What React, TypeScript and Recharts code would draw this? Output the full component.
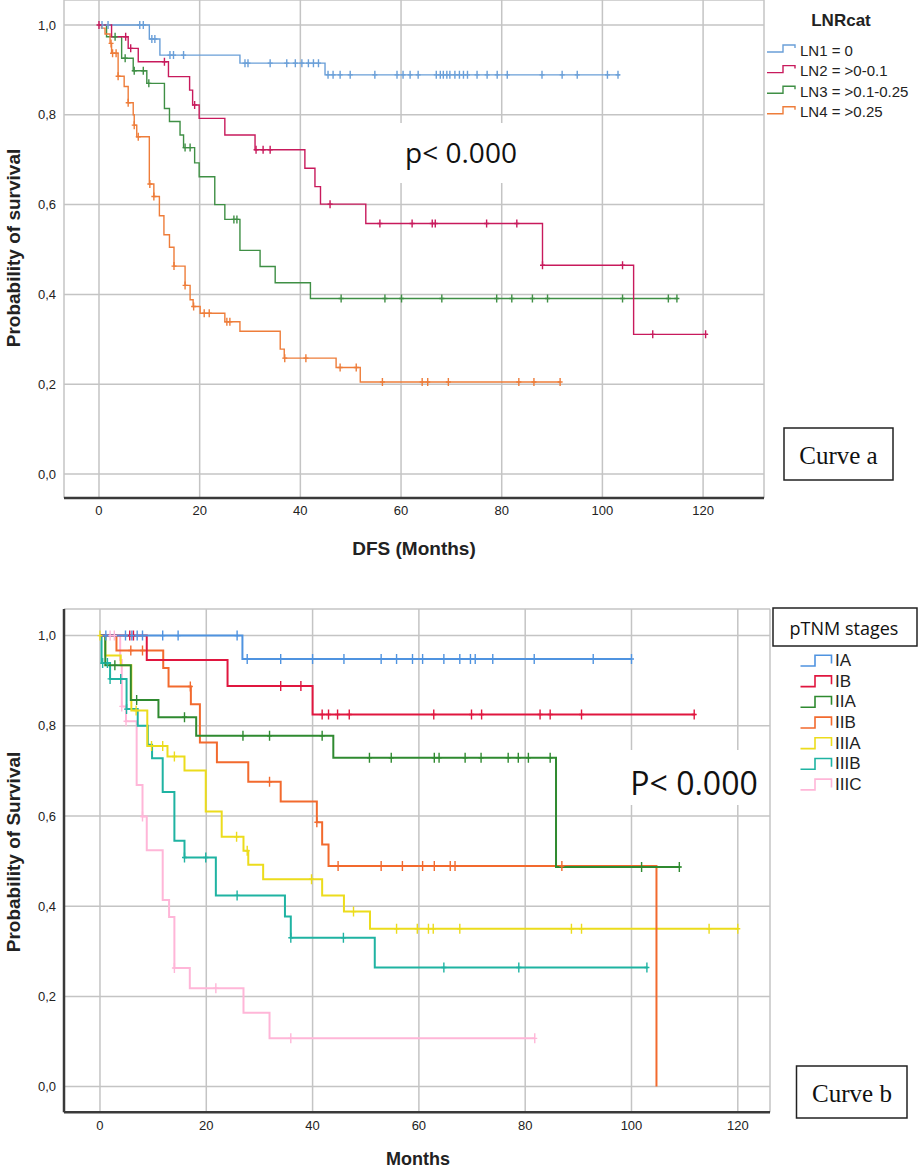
import React from "react";
import { ComposedChart, Line, Scatter, XAxis, YAxis, CartesianGrid } from "recharts";

type Pt = [number, number];

const MONTH_TICKS = [0, 20, 40, 60, 80, 100, 120];
const PROB_TICKS = [0, 0.2, 0.4, 0.6, 0.8, 1.0];

// ---------- Curve a : LNRcat ----------
const LN1_STEPS: Pt[] = [[0, 1], [10, 0.969], [12.1, 0.933], [28, 0.915], [44.9, 0.889], [103.5, 0.889]];
const LN1_CENS = [0.6, 1.8, 8.1, 8.8, 10.5, 11.1, 14.1, 14.8, 16.8, 29, 29.6, 34, 37.3, 39, 40.3, 41.6, 42.6, 43.6, 45.5, 46.5, 47.9, 49.9, 54.8, 59.2, 60.4, 61.8, 63.4, 67, 67.8, 68.4, 69.1, 69.7, 70.7, 71.6, 72.4, 73.2, 75.1, 77.1, 79.1, 81.1, 88, 92, 95, 101, 103.1];

const LN2_STEPS: Pt[] = [[0, 1], [2.5, 0.974], [5.8, 0.948], [7.8, 0.918], [13.8, 0.885], [18, 0.855], [18.6, 0.822], [19.9, 0.792], [25, 0.755], [31, 0.722], [40.9, 0.681], [42.9, 0.64], [44, 0.601], [53, 0.558], [88.1, 0.465], [106.2, 0.311], [121, 0.311]];
const LN2_CENS = [0, 5.3, 6.3, 13, 19, 31.2, 32.6, 34, 45.9, 55.8, 62.2, 66.2, 66.8, 77, 83, 88.1, 104, 110, 120.5];

const LN3_STEPS: Pt[] = [[0, 1], [1.5, 0.974], [4.5, 0.926], [6.8, 0.898], [9.5, 0.87], [13, 0.814], [14, 0.785], [16.1, 0.755], [16.8, 0.727], [19, 0.693], [19.9, 0.662], [23, 0.6], [25, 0.567], [28, 0.498], [32, 0.462], [35, 0.426], [42, 0.391], [115, 0.391]];
const LN3_CENS = [3.2, 5.2, 7, 8.8, 9.9, 17.1, 18.1, 26.8, 27.4, 48.1, 56.8, 60.1, 68.1, 79, 82, 86.1, 89.1, 104, 113.1, 114.8];

const LN4_STEPS: Pt[] = [[0, 1], [0.5, 0.993], [1.2, 0.98], [2.2, 0.959], [2.5, 0.937], [3.8, 0.886], [5, 0.863], [5.8, 0.827], [6.8, 0.8], [7, 0.777], [7.5, 0.751], [10, 0.646], [10.9, 0.618], [12, 0.575], [12.9, 0.533], [14, 0.505], [14.9, 0.463], [17.1, 0.42], [18.1, 0.388], [18.7, 0.373], [20.1, 0.358], [25, 0.339], [28, 0.318], [36, 0.278], [36.8, 0.258], [47.1, 0.237], [51.9, 0.205], [91.6, 0.205]];
const LN4_CENS = [2.4, 2.7, 3.4, 3.8, 5.8, 7.0, 7.8, 10.1, 10.9, 14.9, 17.1, 18.8, 20.9, 21.9, 25.4, 26, 36.9, 41.1, 47.9, 51.1, 56.3, 64.2, 65.3, 69.4, 83.4, 86.4, 91.6];

const TOP_NAMES = ["LN1 = 0", "LN2 = >0-0.1", "LN3 = >0.1-0.25", "LN4 = >0.25"];
const TOP_COLORS = ["#6a9fd8", "#c81a5c", "#3f8f45", "#ee7d3a"];

// ---------- Curve b : pTNM stages ----------
const IA_STEPS: Pt[] = [[0, 1], [26.8, 0.948], [100, 0.948]];
const IA_CENS = [1.1, 4.8, 6, 7, 8, 11.8, 14.7, 25.8, 27.7, 34, 40, 45.9, 52.9, 55.8, 58.8, 60.7, 64.7, 67.7, 69.7, 70.6, 73.9, 81.7, 92.8, 100];

const IB_STEPS: Pt[] = [[0, 1], [8.8, 0.946], [24, 0.888], [40, 0.825], [112, 0.825]];
const IB_CENS = [5.6, 6.3, 34, 37.8, 41.8, 43, 44.7, 46.9, 62.8, 69.9, 71.8, 82.8, 84.7, 90.6, 111.8];

const IIA_STEPS: Pt[] = [[0, 1], [1, 0.934], [5.8, 0.857], [11, 0.819], [18.1, 0.778], [43.9, 0.729], [85.8, 0.487], [109.2, 0.487]];
const IIA_CENS = [2.8, 6.9, 15.9, 26.9, 31.9, 41.8, 50.7, 54.8, 62.9, 63.8, 68.7, 71.7, 76.8, 78.7, 80.6, 84.7, 101.9, 109];

const IIB_STEPS: Pt[] = [[0, 1], [3.1, 0.967], [11.9, 0.928], [12.9, 0.887], [17.1, 0.848], [18.8, 0.763], [22, 0.719], [27.9, 0.676], [34, 0.632], [40.8, 0.586], [41.8, 0.537], [43, 0.489], [104.7, 0]];
const IIB_CENS = [5.8, 8, 17, 31.9, 40.8, 44.8, 52.9, 56.9, 60.7, 62.9, 65.9, 66.8, 86.9];

const IIIA_STEPS: Pt[] = [[0, 1], [1, 0.956], [3.9, 0.934], [5.9, 0.834], [8.9, 0.755], [12.7, 0.732], [15.9, 0.701], [19.9, 0.61], [22.9, 0.554], [27, 0.523], [27.9, 0.492], [30.7, 0.46], [41.8, 0.424], [45.9, 0.388], [50.8, 0.35], [120, 0.35]];
const IIIA_CENS = [0, 6.8, 9.7, 11.8, 14, 25.7, 27.7, 39.8, 47.7, 55.8, 59.7, 61.8, 62.7, 67.7, 88.7, 90.6, 114.6, 120];

const IIIB_STEPS: Pt[] = [[0, 1], [0.3, 0.939], [1.9, 0.904], [5, 0.837], [7.1, 0.8], [9, 0.758], [9.8, 0.728], [11.8, 0.653], [14, 0.545], [15.9, 0.508], [21.8, 0.424], [34.8, 0.377], [35.9, 0.33], [51.7, 0.264], [103, 0.264]];
const IIIB_CENS = [0.5, 1.4, 1.9, 3.9, 5, 15.9, 19.9, 25.8, 35.9, 45.8, 64.7, 78.8, 102.9];

const IIIC_STEPS: Pt[] = [[0, 1], [3.8, 0.946], [4.1, 0.843], [4.9, 0.81], [6.9, 0.669], [8, 0.599], [8.8, 0.524], [11.8, 0.414], [13, 0.376], [14, 0.263], [16.9, 0.218], [27, 0.164], [31.9, 0.107], [81.8, 0.107]];
const IIIC_CENS = [1.9, 2.7, 4.1, 4.9, 8, 14, 21.8, 35.9, 81.8];

const BOT_NAMES = ["IA", "IB", "IIA", "IIB", "IIIA", "IIIB", "IIIC"];
const BOT_COLORS = ["#4f93e0", "#e0163f", "#2f8a30", "#f26a2e", "#ecdc1c", "#1fb3a2", "#ffb6d8"];

type Series = { name: string; color: string; steps: Pt[]; cens: number[] };

const TOP_SERIES: Series[] = [
  { name: TOP_NAMES[0], color: TOP_COLORS[0], steps: LN1_STEPS, cens: LN1_CENS },
  { name: TOP_NAMES[1], color: TOP_COLORS[1], steps: LN2_STEPS, cens: LN2_CENS },
  { name: TOP_NAMES[2], color: TOP_COLORS[2], steps: LN3_STEPS, cens: LN3_CENS },
  { name: TOP_NAMES[3], color: TOP_COLORS[3], steps: LN4_STEPS, cens: LN4_CENS },
];

const BOT_SERIES: Series[] = [
  { name: BOT_NAMES[0], color: BOT_COLORS[0], steps: IA_STEPS, cens: IA_CENS },
  { name: BOT_NAMES[1], color: BOT_COLORS[1], steps: IB_STEPS, cens: IB_CENS },
  { name: BOT_NAMES[2], color: BOT_COLORS[2], steps: IIA_STEPS, cens: IIA_CENS },
  { name: BOT_NAMES[3], color: BOT_COLORS[3], steps: IIB_STEPS, cens: IIB_CENS },
  { name: BOT_NAMES[4], color: BOT_COLORS[4], steps: IIIA_STEPS, cens: IIIA_CENS },
  { name: BOT_NAMES[5], color: BOT_COLORS[5], steps: IIIB_STEPS, cens: IIIB_CENS },
  { name: BOT_NAMES[6], color: BOT_COLORS[6], steps: IIIC_STEPS, cens: IIIC_CENS },
];

function survAt(steps: Pt[], t: number): number {
  let s = steps[0][1];
  for (const [ti, si] of steps) {
    if (ti <= t + 1e-9) s = si;
  }
  return s;
}

const toCurve = (steps: Pt[]) => steps.map(([t, s]) => ({ t, s }));
const toCens = (steps: Pt[], times: number[]) => times.map((t) => ({ t, s: survAt(steps, t) }));

const SANS = "'Liberation Sans', Arial, sans-serif";
const fmtProb = (v: number) => v.toFixed(1).replace(".", ",");

type ChartProps = {
  series: Series[];
  width: number;
  height: number;
  margin: { top: number; right: number; bottom: number; left: number };
  xAxisHeight: number;
  xDomain: [number, number];
  yDomain: [number, number];
  showYLine: boolean;
  lineWidth: number;
  tickHalf: number;
  drawOrder: number[];
};

function KMChart(p: ChartProps) {
  return (
    <ComposedChart width={p.width} height={p.height} margin={p.margin}>
      <CartesianGrid stroke="#c4c4c4" strokeWidth={1.5} />
      <XAxis
        type="number"
        dataKey="t"
        domain={p.xDomain}
        allowDataOverflow
        ticks={MONTH_TICKS}
        interval={0}
        height={p.xAxisHeight}
        tickLine={false}
        axisLine={{ stroke: "#3a3a3a", strokeWidth: 2.5 }}
        tick={{ fontSize: 13, fill: "#222", fontFamily: SANS }}
      />
      <YAxis
        type="number"
        dataKey="s"
        domain={p.yDomain}
        allowDataOverflow
        ticks={PROB_TICKS}
        interval={0}
        width={64}
        tickLine={false}
        axisLine={p.showYLine ? { stroke: "#3a3a3a", strokeWidth: 2.5 } : false}
        tickFormatter={fmtProb}
        tick={{ fontSize: 13, fill: "#222", fontFamily: SANS }}
      />
      {p.drawOrder.map((i) => {
        const s = p.series[i];
        return (
          <Line
            key={"l" + i}
            data={toCurve(s.steps)}
            dataKey="s"
            type="stepAfter"
            stroke={s.color}
            strokeWidth={p.lineWidth}
            dot={false}
            activeDot={false}
            isAnimationActive={false}
          />
        );
      })}
      {p.drawOrder.map((i) => {
        const s = p.series[i];
        const h = p.tickHalf;
        return (
          <Scatter
            key={"c" + i}
            data={toCens(s.steps, s.cens)}
            dataKey="s"
            isAnimationActive={false}
            shape={(props: any) => (
              <path
                d={`M${props.cx},${props.cy - h}V${props.cy + h}M${props.cx - 2.5},${props.cy}H${props.cx + 2.5}`}
                stroke={s.color}
                strokeWidth={1.4}
                fill="none"
              />
            )}
          />
        );
      })}
    </ComposedChart>
  );
}

export default function App() {
  return (
    <div style={{ position: "absolute", left: 0, top: 0, width: 918, height: 1171, background: "#fff", overflow: "hidden" }}>
      <div style={{ position: "absolute", left: 0, top: 0 }}>
        <KMChart
          series={TOP_SERIES}
          width={918}
          height={560}
          margin={{ top: 0, right: 154, bottom: 0, left: 0 }}
          xAxisHeight={62}
          xDomain={[-6.95, 132.1]}
          yDomain={[-0.0535, 1.0557]}
          showYLine={false}
          lineWidth={1.4}
          tickHalf={4}
          drawOrder={[0, 2, 3, 1]}
        />
      </div>
      <div style={{ position: "absolute", left: 0, top: 570 }}>
        <KMChart
          series={BOT_SERIES}
          width={918}
          height={601}
          margin={{ top: 39, right: 148, bottom: 0, left: 0 }}
          xAxisHeight={58.7}
          xDomain={[-6.77, 126.06]}
          yDomain={[-0.057, 1.059]}
          showYLine={true}
          lineWidth={2}
          tickHalf={5}
          drawOrder={[6, 5, 4, 3, 2, 1, 0]}
        />
      </div>
      <svg width={918} height={1171} style={{ position: "absolute", left: 0, top: 0, pointerEvents: "none" }}>
        {/* ---- top chart annotations ---- */}
        <text x={13} y={248} transform="rotate(-90 13 248)" textAnchor="middle" dominantBaseline="central"
          fontFamily={SANS} fontWeight="bold" fontSize={19} fill="#222">Probability of survival</text>
        <text x={414} y={548} textAnchor="middle" dominantBaseline="central"
          fontFamily={SANS} fontWeight="bold" fontSize={19} fill="#222">DFS (Months)</text>
        <rect x={393} y={123} width={142} height={60} fill="#fff" />
        <text x={461} y={152} textAnchor="middle" dominantBaseline="central"
          fontFamily="'Open Sans', 'Noto Sans', sans-serif" fontSize={28} fill="#111">p&lt; 0.000</text>
        <text x={841} y={20} textAnchor="middle" dominantBaseline="central"
          fontFamily={SANS} fontWeight="bold" fontSize={17} fill="#222">LNRcat</text>
        {TOP_SERIES.map((s, i) => {
          const cy = 50 + i * 20.6;
          return (
            <g key={"tl" + i}>
              <path d={`M767,${cy + 2}H783V${cy - 5}H795V${cy - 2}`} stroke={s.color} strokeWidth={1.4} fill="none" />
              <text x={800} y={cy} dominantBaseline="central" fontFamily={SANS} fontSize={15} fill="#222">{s.name}</text>
            </g>
          );
        })}
        <rect x={784} y={428} width={109} height={52} fill="#fff" stroke="#222" strokeWidth={1.5} />
        <text x={838.5} y={455} textAnchor="middle" dominantBaseline="central"
          fontFamily="'Liberation Serif', 'Times New Roman', serif" fontSize={25} fill="#111">Curve a</text>

        {/* ---- bottom chart annotations ---- */}
        <text x={13} y={852} transform="rotate(-90 13 852)" textAnchor="middle" dominantBaseline="central"
          fontFamily={SANS} fontWeight="bold" fontSize={19} fill="#222">Probability of Survival</text>
        <text x={418} y={1159} textAnchor="middle" dominantBaseline="central"
          fontFamily={SANS} fontWeight="bold" fontSize={18} fill="#222">Months</text>
        <rect x={620} y={750} width={149} height={55} fill="#fff" />
        <text x={694} y={782} textAnchor="middle" dominantBaseline="central"
          fontFamily="'Open Sans', 'Noto Sans', sans-serif" fontSize={32} fill="#111">P&lt; 0.000</text>
        <rect x={773} y={608} width={144} height={38} fill="#fff" stroke="#222" strokeWidth={1.5} />
        <text x={844} y={628} textAnchor="middle" dominantBaseline="central"
          fontFamily="'Open Sans', 'Noto Sans', sans-serif" fontSize={18} fill="#111">pTNM stages</text>
        {BOT_SERIES.map((s, i) => {
          const cy = 659.5 + i * 20.65;
          return (
            <g key={"bl" + i}>
              <path d={`M800.5,${cy + 6.5}H815V${cy - 4.3}H831.5V${cy + 4}`} stroke={s.color} strokeWidth={1.6} fill="none" />
              <text x={835} y={cy + 1} dominantBaseline="central" fontFamily={SANS} fontSize={17} fill="#222">{s.name}</text>
            </g>
          );
        })}
        <rect x={796.5} y={1066} width={110.5} height={52} fill="#fff" stroke="#222" strokeWidth={1.5} />
        <text x={852} y={1093} textAnchor="middle" dominantBaseline="central"
          fontFamily="'Liberation Serif', 'Times New Roman', serif" fontSize={25} fill="#111">Curve b</text>
      </svg>
    </div>
  );
}
